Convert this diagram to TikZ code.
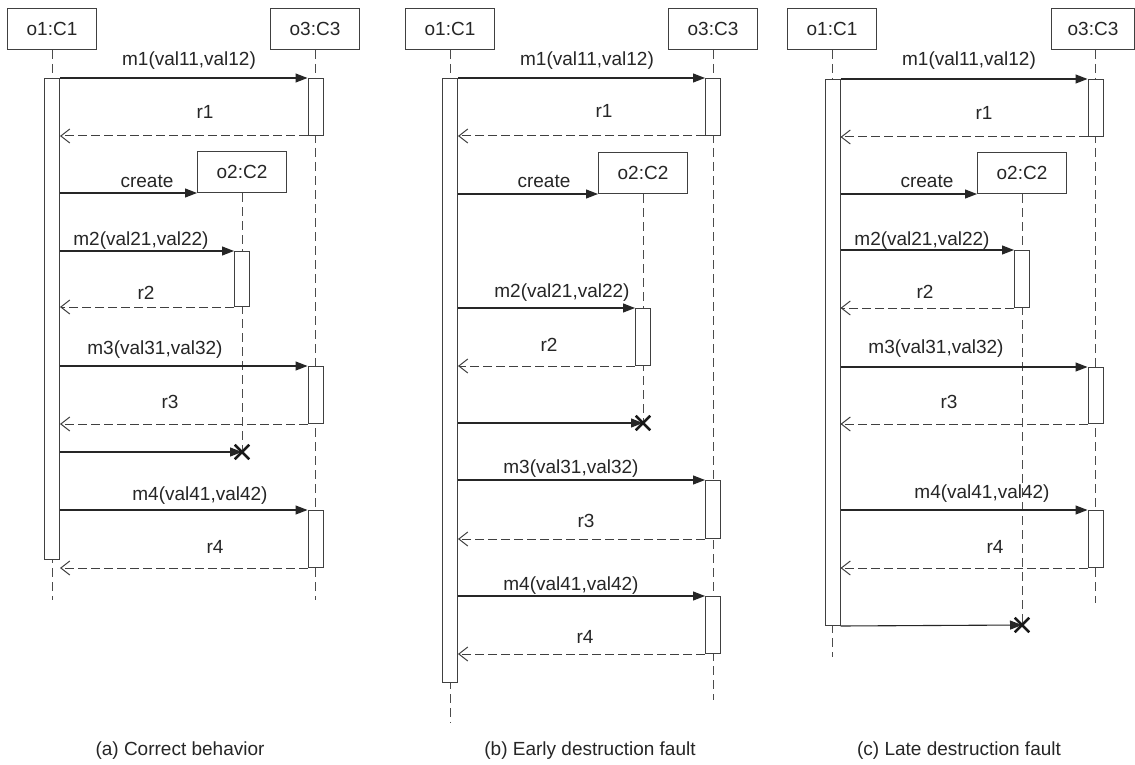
\documentclass[tikz,border=0pt]{standalone}
\usepackage{fontspec}
\setmainfont{Liberation Sans}
\usetikzlibrary{arrows.meta,shapes.misc}

\tikzset{
  txt/.style={font=\fontsize{19}{22}\selectfont, text=black!85},
  obj/.style={txt, draw=black!75, fill=white, line width=1pt,
    minimum width=89pt, minimum height=41pt, inner sep=0pt},
  actbar/.style={draw=black!75, fill=white, line width=1pt,
    minimum width=15pt, inner sep=0pt, anchor=north},
  lifeline/.style={draw=black!70, line width=1pt, dash pattern=on 9pt off 5pt},
  callmsg/.style={draw=black!85, line width=1.1pt, -{Triangle[length=12pt,width=9pt]}},
  retmsg/.style={draw=black!75, line width=1pt, dash pattern=on 9pt off 4pt,
    -{Straight Barb[length=9pt,width=14pt,line width=1pt]}},
  lbl/.style={txt, inner sep=0pt, anchor=base},
  killmark/.style={cross out, draw=black!90, line width=2.4pt, minimum size=12pt, inner sep=0pt},
}

\begin{document}
\begin{tikzpicture}[x=1pt,y=-1pt]
\useasboundingbox[fill=white] (0,0) rectangle (1135,765);

% ---------------- (a) correct behaviour ----------------
\node[obj] (a-o1) at (52,29) {o1:C1};
\node[obj] (a-o3) at (315,29) {o3:C3};
\node[obj] (a-o2) at (242,172) {o2:C2};
\coordinate (a-end1) at (52,600);
\coordinate (a-end3) at (315,600);
\node[killmark] (a-kill) at (242,452) {};

\draw[lifeline] (a-o1.south) -- (a-end1);
\draw[lifeline] (a-o3.south) -- (a-end3);
\draw[lifeline] (a-o2.south) -- (a-kill.center);

\node[actbar, minimum height=481pt] (a-act1) at (52,78) {};
\node[actbar, minimum height=57pt] (a-act3a) at (315.5,78) {};
\node[actbar, minimum height=55pt] (a-act2) at (242,251) {};
\node[actbar, minimum height=57pt] (a-act3b) at (315.5,366) {};
\node[actbar, minimum height=57pt] (a-act3c) at (315.5,510) {};

\draw[callmsg] (a-act1.north east) -- (a-act3a.north west);
\draw[retmsg] (a-act3a.south west) -- (a-act1.east |- a-act3a.south west);
\draw[callmsg] (a-act1.east |- a-o2.south) -- (a-o2.south west);
\draw[callmsg] (a-act1.east |- a-act2.north) -- (a-act2.north west);
\draw[retmsg] (a-act2.south west) -- (a-act1.east |- a-act2.south);
\draw[callmsg] (a-act1.east |- a-act3b.north) -- (a-act3b.north west);
\draw[retmsg] (a-act3b.south west) -- (a-act1.east |- a-act3b.south);
\draw[callmsg] (a-act1.east |- a-kill) -- (a-kill.center);
\draw[callmsg] (a-act1.east |- a-act3c.north) -- (a-act3c.north west);
\draw[retmsg] (a-act3c.south west) -- (a-act1.east |- a-act3c.south);
\node[killmark] at (a-kill) {};

\node[lbl] (a-t-m1) at (189,66) {m1(val11,val12)};
\node[lbl] (a-t-r1) at (205,119) {r1};
\node[lbl] (a-t-cr) at (147,187) {create};
\node[lbl] (a-t-m2) at (141,245) {m2(val21,val22)};
\node[lbl] (a-t-r2) at (146,299) {r2};
\node[lbl] (a-t-m3) at (155,354) {m3(val31,val32)};
\node[lbl] (a-t-r3) at (170,408) {r3};
\node[lbl] (a-t-m4) at (200,500) {m4(val41,val42)};
\node[lbl] (a-t-r4) at (215,553) {r4};
\node[lbl] (a-cap) at (180,755) {(a) Correct behavior};

% ---------------- (b) early destruction ----------------
\node[obj] (b-o1) at (450,29) {o1:C1};
\node[obj] (b-o3) at (713,29) {o3:C3};
\node[obj] (b-o2) at (643,173) {o2:C2};
\coordinate (b-end1) at (450,723);
\coordinate (b-end3) at (713,700);
\node[killmark] (b-kill) at (643,423) {};

\draw[lifeline] (b-o1.south) -- (b-end1);
\draw[lifeline] (b-o3.south) -- (b-end3);
\draw[lifeline] (b-o2.south) -- (b-kill.center);

\node[actbar, minimum height=604pt] (b-act1) at (450,78) {};
\node[actbar, minimum height=57pt] (b-act3a) at (713,78) {};
\node[actbar, minimum height=57pt] (b-act2) at (643,308) {};
\node[actbar, minimum height=58pt] (b-act3b) at (713,480) {};
\node[actbar, minimum height=57pt] (b-act3c) at (713,596) {};

\draw[callmsg] (b-act1.north east) -- (b-act3a.north west);
\draw[retmsg] (b-act3a.south west) -- (b-act1.east |- b-act3a.south west);
\draw[callmsg] (b-act1.east |- b-o2.south) -- (b-o2.south west);
\draw[callmsg] (b-act1.east |- b-act2.north) -- (b-act2.north west);
\draw[retmsg] (b-act2.south west) -- (b-act1.east |- b-act2.south);
\draw[callmsg] (b-act1.east |- b-kill) -- (b-kill.center);
\draw[callmsg] (b-act1.east |- b-act3b.north) -- (b-act3b.north west);
\draw[retmsg] (b-act3b.south west) -- (b-act1.east |- b-act3b.south);
\draw[callmsg] (b-act1.east |- b-act3c.north) -- (b-act3c.north west);
\draw[retmsg] (b-act3c.south west) -- (b-act1.east |- b-act3c.south);
\node[killmark] at (b-kill) {};

\node[lbl] (b-t-m1) at (587,66) {m1(val11,val12)};
\node[lbl] (b-t-r1) at (604,118) {r1};
\node[lbl] (b-t-cr) at (544,187) {create};
\node[lbl] (b-t-m2) at (562,297) {m2(val21,val22)};
\node[lbl] (b-t-r2) at (549,351) {r2};
\node[lbl] (b-t-m3) at (571,473) {m3(val31,val32)};
\node[lbl] (b-t-r3) at (586,527) {r3};
\node[lbl] (b-t-m4) at (571,590) {m4(val41,val42)};
\node[lbl] (b-t-r4) at (585,643) {r4};
\node[lbl] (b-cap) at (590,755) {(b) Early destruction fault};

% ---------------- (c) late destruction ----------------
\node[obj] (c-o1) at (832,29) {o1:C1};
\node[obj, minimum width=83pt] (c-o3) at (1093,29) {o3:C3};
\node[obj] (c-o2) at (1022,173) {o2:C2};
\coordinate (c-end1) at (832,657);
\coordinate (c-end3) at (1095,603);
\node[killmark] (c-kill) at (1022,625) {};

\draw[lifeline] (c-o1.south) -- (c-end1);
\draw[lifeline] (c-o3.south -| c-end3) -- (c-end3);
\draw[lifeline] (c-o2.south) -- (c-kill.center);

\node[actbar, minimum height=546pt] (c-act1) at (832.5,79) {};
\node[actbar, minimum height=57pt] (c-act3a) at (1095.5,79) {};
\node[actbar, minimum height=57pt] (c-act2) at (1022,250) {};
\node[actbar, minimum height=56pt] (c-act3b) at (1095.5,367) {};
\node[actbar, minimum height=57pt] (c-act3c) at (1095.5,510) {};

\draw[callmsg] (c-act1.north east) -- (c-act3a.north west);
\draw[retmsg] (c-act3a.south west) -- (c-act1.east |- c-act3a.south west);
\draw[callmsg] (c-act1.east |- c-o2.south) -- (c-o2.south west);
\draw[callmsg] (c-act1.east |- c-act2.north) -- (c-act2.north west);
\draw[retmsg] (c-act2.south west) -- (c-act1.east |- c-act2.south);
\draw[callmsg] (c-act1.east |- c-act3b.north) -- (c-act3b.north west);
\draw[retmsg] (c-act3b.south west) -- (c-act1.east |- c-act3b.south);
\draw[callmsg] (c-act1.east |- c-act3c.north) -- (c-act3c.north west);
\draw[retmsg] (c-act3c.south west) -- (c-act1.east |- c-act3c.south);
\draw[callmsg] (c-act1.south east) -- (c-kill.center);
\node[killmark] at (c-kill) {};

\node[lbl] (c-t-m1) at (969,66) {m1(val11,val12)};
\node[lbl] (c-t-r1) at (984,120) {r1};
\node[lbl] (c-t-cr) at (927,187) {create};
\node[lbl] (c-t-m2) at (922,245) {m2(val21,val22)};
\node[lbl] (c-t-r2) at (925,298) {r2};
\node[lbl] (c-t-m3) at (936,353) {m3(val31,val32)};
\node[lbl] (c-t-r3) at (949,408) {r3};
\node[lbl] (c-t-m4) at (982,498) {m4(val41,val42)};
\node[lbl] (c-t-r4) at (995,553) {r4};
\node[lbl] (c-cap) at (959,755) {(c) Late destruction fault};
\end{tikzpicture}
\end{document}
